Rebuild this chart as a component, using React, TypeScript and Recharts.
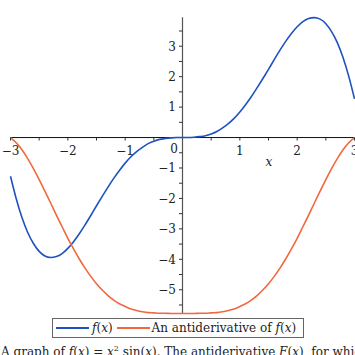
import { LineChart, Line, XAxis, YAxis, ReferenceLine, ReferenceDot } from "recharts";

// sample points
const xs = [
  -3.0, -2.9, -2.8, -2.7, -2.6, -2.5, -2.4, -2.3, -2.2, -2.1,
  -2.0, -1.9, -1.8, -1.7, -1.6, -1.5, -1.4, -1.3, -1.2, -1.1,
  -1.0, -0.9, -0.8, -0.7, -0.6, -0.5, -0.4, -0.3, -0.2, -0.1,
  0.0, 0.1, 0.2, 0.3, 0.4, 0.5, 0.6, 0.7, 0.8, 0.9,
  1.0, 1.1, 1.2, 1.3, 1.4, 1.5, 1.6, 1.7, 1.8, 1.9,
  2.0, 2.1, 2.2, 2.3, 2.4, 2.5, 2.6, 2.7, 2.8, 2.9, 3.0,
];

const fValues = [
  -1.27, -2.01, -2.63, -3.12, -3.48, -3.74, -3.89, -3.94, -3.91, -3.81,
  -3.64, -3.42, -3.16, -2.87, -2.56, -2.24, -1.93, -1.63, -1.34, -1.08,
  -0.84, -0.63, -0.46, -0.32, -0.2, -0.12, -0.06, -0.03, -0.01, 0.0,
  0.0, 0.0, 0.01, 0.03, 0.06, 0.12, 0.2, 0.32, 0.46, 0.63,
  0.84, 1.08, 1.34, 1.63, 1.93, 2.24, 2.56, 2.87, 3.16, 3.42,
  3.64, 3.81, 3.91, 3.94, 3.89, 3.74, 3.48, 3.12, 2.63, 2.01, 1.27,
];

const antiValues = [
  0.0, -0.17, -0.4, -0.69, -1.02, -1.38, -1.76, -2.15, -2.55, -2.93,
  -3.31, -3.66, -3.99, -4.29, -4.56, -4.8, -5.01, -5.19, -5.34, -5.46,
  -5.55, -5.63, -5.68, -5.72, -5.75, -5.76, -5.77, -5.77, -5.78, -5.78,
  -5.78, -5.78, -5.78, -5.77, -5.77, -5.76, -5.75, -5.72, -5.68, -5.63,
  -5.55, -5.46, -5.34, -5.19, -5.01, -4.8, -4.56, -4.29, -3.99, -3.66,
  -3.31, -2.93, -2.55, -2.15, -1.76, -1.38, -1.02, -0.69, -0.4, -0.17, 0.0,
];

const xTicks = [-3, -2, -1, 1, 2, 3];
const xMinor = [-2.5, -1.5, -0.5, 0.5, 1.5, 2.5];
const yTicks = [-5, -4, -3, -2, -1, 1, 2, 3];
const yMinor = [-5.5, -4.5, -3.5, -2.5, -1.5, -0.5, 0.5, 1.5, 2.5, 3.5];

const data = xs.map((x, i) => ({ x, f: fValues[i], F: antiValues[i] }));

const BLUE = "#1f52c0";
const ORANGE = "#f2683e";
const FONT = "'DejaVu Serif', serif";

const fmt = (v: number) => (v < 0 ? "\u2212" + Math.abs(v) : String(v));

function XTickMark({ cx, cy, label }: { cx: number; cy: number; label?: string }) {
  return (
    <g>
      <line x1={cx} y1={cy} x2={cx} y2={cy + 3} stroke="#333" strokeWidth={1} />
      {label && (
        <text x={cx} y={cy + 17} textAnchor="middle" fontSize={12} fontFamily={FONT} fill="#222">
          {label}
        </text>
      )}
    </g>
  );
}

function YTickMark({ cx, cy, label }: { cx: number; cy: number; label?: string }) {
  return (
    <g>
      <line x1={cx - 3.5} y1={cy} x2={cx} y2={cy} stroke="#333" strokeWidth={1} />
      {label && (
        <text x={cx - 6.5} y={cy + 4.3} textAnchor="end" fontSize={12} fontFamily={FONT} fill="#222">
          {label}
        </text>
      )}
    </g>
  );
}

export default function App() {
  return (
    <div
      style={{
        position: "fixed",
        left: 0,
        top: 0,
        width: 355,
        height: 355,
        overflow: "hidden",
        background: "#fff",
        fontFamily: FONT,
      }}
    >
      <LineChart
        width={355}
        height={316}
        data={data}
        margin={{ top: 17.3, right: 0.5, bottom: 2.5, left: 10.5 }}
      >
        <XAxis dataKey="x" type="number" domain={[-3, 3]} hide />
        <YAxis type="number" domain={[-5.78, 3.95]} hide />
        <ReferenceLine y={0} stroke="#111" strokeWidth={1} />
        <ReferenceLine x={0} stroke="#555" strokeWidth={1.2} />
        {xMinor.map((t) => (
          <ReferenceDot key={"xm" + t} x={t} y={0} ifOverflow="visible"
            shape={(p: any) => <XTickMark cx={p.cx} cy={p.cy} />} />
        ))}
        {xTicks.map((t) => (
          <ReferenceDot key={"x" + t} x={t} y={0} ifOverflow="visible"
            shape={(p: any) => <XTickMark cx={p.cx} cy={p.cy} label={fmt(t)} />} />
        ))}
        {yMinor.map((t) => (
          <ReferenceDot key={"ym" + t} x={0} y={t} ifOverflow="visible"
            shape={(p: any) => <YTickMark cx={p.cx} cy={p.cy} />} />
        ))}
        {yTicks.map((t) => (
          <ReferenceDot key={"y" + t} x={0} y={t} ifOverflow="visible"
            shape={(p: any) => <YTickMark cx={p.cx} cy={p.cy} label={fmt(t)} />} />
        ))}
        <ReferenceDot x={0} y={0} ifOverflow="visible"
          shape={(p: any) => (
            <text x={p.cx - 4.5} y={p.cy + 15.5} textAnchor="end" fontSize={12} fontFamily={FONT} fill="#222">
              0
            </text>
          )} />
        <ReferenceDot x={1.5} y={0} ifOverflow="visible"
          shape={(p: any) => (
            <text x={p.cx + 0.5} y={p.cy + 28} textAnchor="middle" fontSize={12} fontStyle="italic" fontFamily={FONT} fill="#222">
              x
            </text>
          )} />
        <Line dataKey="f" type="monotone" stroke={BLUE} strokeWidth={1.6} dot={false} isAnimationActive={false} />
        <Line dataKey="F" type="monotone" stroke={ORANGE} strokeWidth={1.6} dot={false} isAnimationActive={false} />
      </LineChart>

      <div
        style={{
          position: "absolute",
          left: 52,
          top: 318,
          width: 250,
          height: 18,
          border: "1.5px solid #666",
          display: "flex",
          alignItems: "center",
          fontSize: 12,
          color: "#222",
          whiteSpace: "nowrap",
        }}
      >
        <span style={{ display: "inline-block", width: 33, height: 2, background: BLUE, marginLeft: 3 }} />
        <span style={{ marginLeft: 3 }}>
          <i>f</i>(<i>x</i>)
        </span>
        <span style={{ display: "inline-block", width: 33, height: 2, background: ORANGE, marginLeft: 4 }} />
        <span style={{ marginLeft: 2 }}>
          An antiderivative of <i>f</i>(<i>x</i>)
        </span>
      </div>

      <div
        style={{
          position: "absolute",
          left: 1,
          top: 345,
          fontSize: 12,
          lineHeight: "14px",
          color: "#222",
          whiteSpace: "nowrap",
        }}
      >
        A graph of <i>f</i>(<i>x</i>) = <i>x</i>
        <sup style={{ fontSize: 8, lineHeight: 0 }}>2</sup> sin(<i>x</i>). The antiderivative <i>F</i>(<i>x</i>), for which <i>F</i>(3) = 0
      </div>
    </div>
  );
}
